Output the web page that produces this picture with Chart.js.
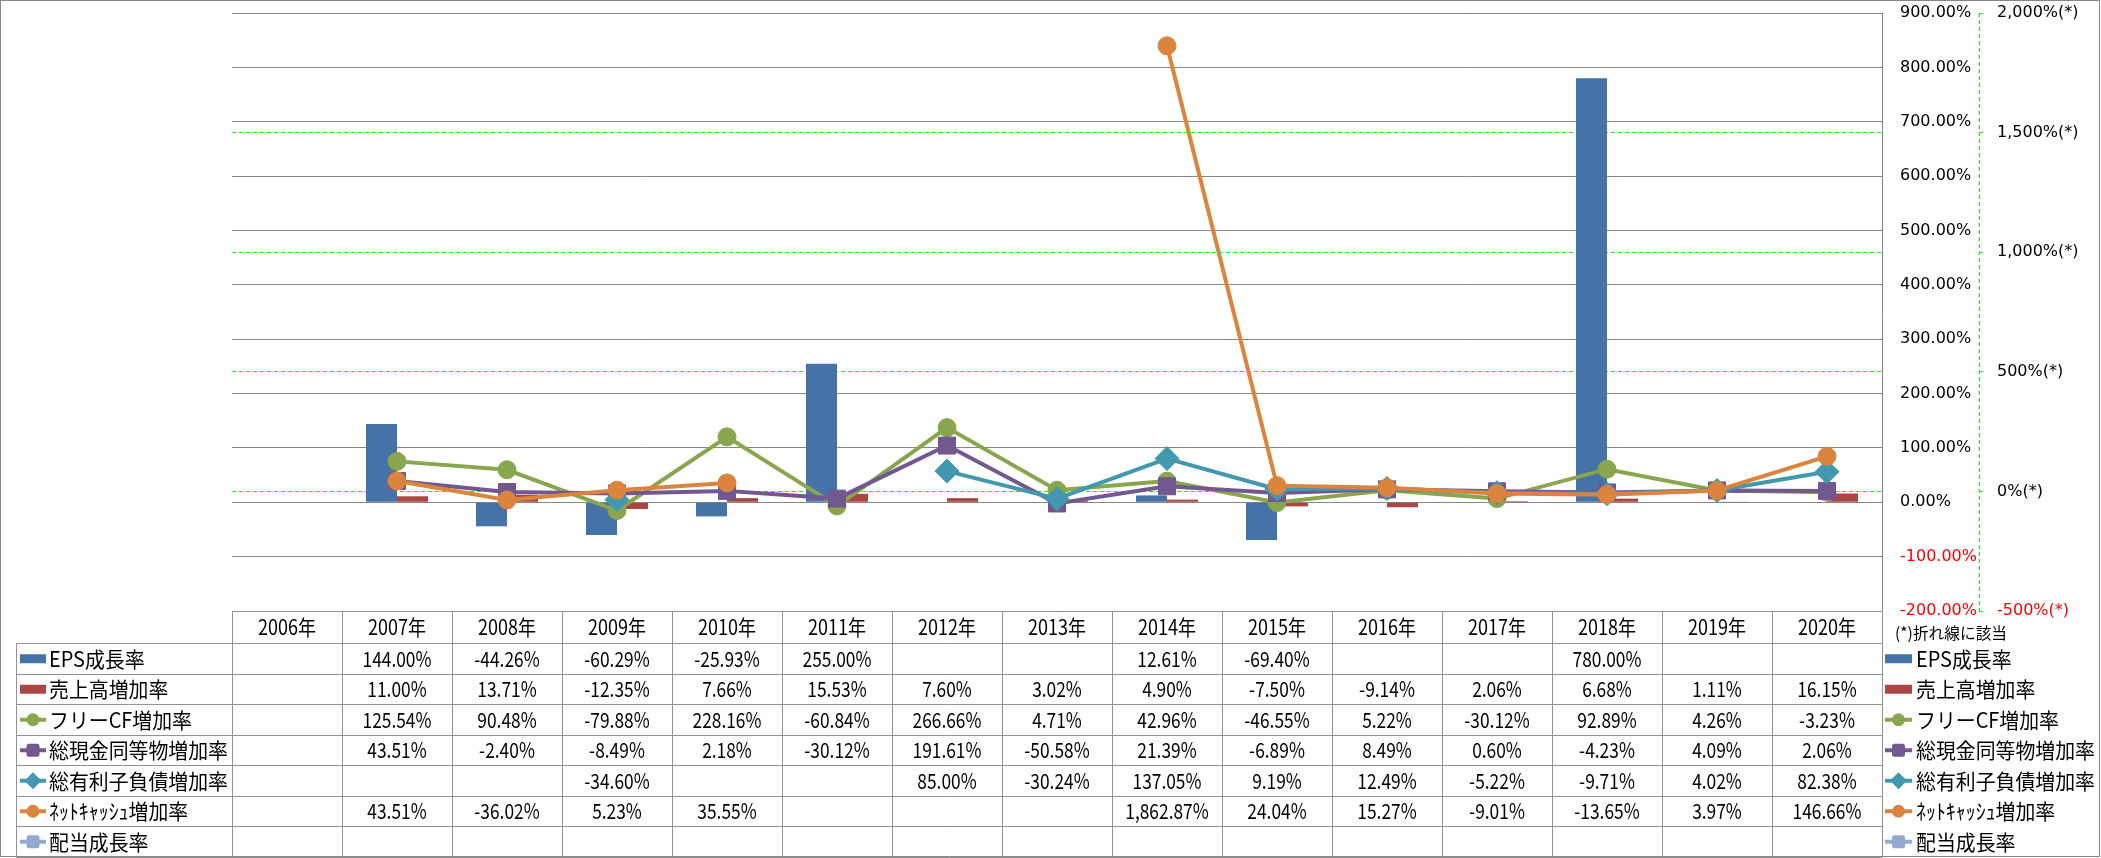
<!DOCTYPE html>
<html>
<head>
<meta charset="utf-8">
<script src="https://cdn.jsdelivr.net/npm/chart.js@4/dist/chart.umd.min.js"></script>
<style>
html,body{margin:0;padding:0;background:#fff;overflow:hidden}
canvas{display:block}
</style>
</head>
<body>
<canvas id="c" width="2101" height="858"></canvas>
<script>
// ---- data ----
const years = ['2006年','2007年','2008年','2009年','2010年','2011年','2012年','2013年','2014年','2015年','2016年','2017年','2018年','2019年','2020年'];
const seriesNames = ['EPS成長率','売上高増加率','フリーCF増加率','総現金同等物増加率','総有利子負債増加率','ﾈｯﾄｷｬｯｼｭ増加率','配当成長率'];
const epsGrowth     = [null,144.00,-44.26,-60.29,-25.93,255.00,null,null,12.61,-69.40,null,null,780.00,null,null];
const salesGrowth   = [null,11.00,13.71,-12.35,7.66,15.53,7.60,3.02,4.90,-7.50,-9.14,2.06,6.68,1.11,16.15];
const freeCfGrowth  = [null,125.54,90.48,-79.88,228.16,-60.84,266.66,4.71,42.96,-46.55,5.22,-30.12,92.89,4.26,-3.23];
const cashGrowth    = [null,43.51,-2.40,-8.49,2.18,-30.12,191.61,-50.58,21.39,-6.89,8.49,0.60,-4.23,4.09,2.06];
const debtGrowth    = [null,null,null,-34.60,null,null,85.00,-30.24,137.05,9.19,12.49,-5.22,-9.71,4.02,82.38];
const netCashGrowth = [null,43.51,-36.02,5.23,35.55,null,null,null,1862.87,24.04,15.27,-9.01,-13.65,3.97,146.66];
const dividendGrowth= [null,null,null,null,null,null,null,null,null,null,null,null,null,null,null];
const leftAxisRange  = [-200, 900, 100];   // min, max, step (bars)
const rightAxisRange = [-500, 2000, 500];  // min, max, step (lines, marked (*))
const axisNote = '(*)折れ線に該当';

// ---- styles ----
const COLORS = ['#4572A7','#AA4643','#89A54E','#71588F','#4198AF','#DB843D','#93A9CF'];
const KEYS = ['bar','bar','circle','rect','diamond','circle','rect'];
const seriesData = [epsGrowth, salesGrowth, freeCfGrowth, cashGrowth, debtGrowth, netCashGrowth, dividendGrowth];

const fmtPct = v => v.toLocaleString('en-US',{minimumFractionDigits:2,maximumFractionDigits:2}) + '%';

function drawKey(ctx, type, color, x0, x1, yc) {
  ctx.save();
  ctx.fillStyle = color; ctx.strokeStyle = color;
  const xm = (x0 + x1) / 2;
  if (type === 'bar') {
    ctx.fillRect(x0, yc - 4.5, x1 - x0, 9);
  } else {
    ctx.lineWidth = 4;
    ctx.beginPath(); ctx.moveTo(x0, yc); ctx.lineTo(x1, yc); ctx.stroke();
    ctx.beginPath();
    if (type === 'circle') {
      ctx.arc(xm, yc, 6.5, 0, Math.PI * 2);
    } else if (type === 'rect') {
      const s = 6.5, r = 2.5;
      ctx.moveTo(xm - s + r, yc - s);
      ctx.arcTo(xm + s, yc - s, xm + s, yc + s, r);
      ctx.arcTo(xm + s, yc + s, xm - s, yc + s, r);
      ctx.arcTo(xm - s, yc + s, xm - s, yc - s, r);
      ctx.arcTo(xm - s, yc - s, xm + s, yc - s, r);
      ctx.closePath();
    } else if (type === 'diamond') {
      const d = 8.5;
      ctx.moveTo(xm, yc - d); ctx.lineTo(xm + d, yc); ctx.lineTo(xm, yc + d); ctx.lineTo(xm - d, yc); ctx.closePath();
    }
    ctx.fill();
  }
  ctx.restore();
}

function drawText(ctx, t, x, y, align, sx) {
  ctx.save();
  ctx.translate(x, y);
  ctx.scale(sx, 1);
  ctx.textAlign = align;
  ctx.textBaseline = 'middle';
  ctx.fillText(t, 0, 0);
  ctx.restore();
}

const tablePlugin = {
  id: 'dataTable',
  afterDraw(chart) {
    const ctx = chart.ctx;
    const ca = chart.chartArea;
    const xs = chart.scales.x;
    const n = years.length;
    const colW = (ca.right - ca.left) / n;
    const top = Math.round(ca.bottom) + 0.5;
    const headH = 32, rowH = 30.5;
    const labelLeft = 16.5;
    const L = Math.round(ca.left) + 0.5, R = Math.round(ca.right) + 0.5;
    const nRows = seriesNames.length;
    const bottom = Math.round(top + headH + nRows * rowH) + 0.5 - 1;

    ctx.save();
    // secondary axis dashed border
    const y2 = chart.scales.y2;
    ctx.strokeStyle = '#00FF00'; ctx.lineWidth = 1; ctx.setLineDash([4,3]);
    ctx.beginPath(); ctx.moveTo(Math.round(y2.left) + 0.5, ca.top); ctx.lineTo(Math.round(y2.left) + 0.5, ca.bottom); ctx.stroke();
    ctx.setLineDash([]);

    // table grid
    ctx.strokeStyle = '#939393'; ctx.lineWidth = 1;
    const line = (a, b, c, d) => { ctx.beginPath(); ctx.moveTo(a, b); ctx.lineTo(c, d); ctx.stroke(); };
    line(L, top, R, top);
    for (let r = 0; r <= nRows; r++) {
      const y = Math.round(top + headH + r * rowH - 0.5) + 0.5;
      line(labelLeft, y, R, y);
    }
    line(labelLeft, Math.round(top + headH - 0.5) + 0.5, labelLeft, bottom);
    for (let i = 0; i <= n; i++) {
      const x = Math.round(ca.left + i * colW) + 0.5;
      line(x, top, x, bottom);
    }

    // header
    ctx.fillStyle = '#000';
    ctx.font = '21px "Noto Sans CJK JP"';
    const sxHead = 58 / ctx.measureText('2006年').width;
    const sxNum = 69 / ctx.measureText('255.00%').width;
    const sxLab = 179 / ctx.measureText('総現金同等物増加率').width;
    for (let i = 0; i < n; i++) {
      drawText(ctx, years[i], xs.getPixelForValue(i), top + headH / 2, 'center', sxHead);
    }
    // rows
    for (let r = 0; r < nRows; r++) {
      const yc = top + headH + (r + 0.5) * rowH;
      drawKey(ctx, KEYS[r], COLORS[r], 20, 46, yc);
      ctx.fillStyle = '#000';
      drawText(ctx, seriesNames[r], 49, yc, 'left', sxLab);
      const d = seriesData[r];
      for (let i = 0; i < n; i++) {
        if (d[i] === null || d[i] === undefined) continue;
        drawText(ctx, fmtPct(d[i]), xs.getPixelForValue(i), yc, 'center', sxNum);
      }
      // right legend
      drawKey(ctx, KEYS[r], COLORS[r], 1885, 1912, yc);
      ctx.fillStyle = '#000';
      drawText(ctx, seriesNames[r], 1916, yc, 'left', sxLab);
    }
    // note
    ctx.font = '16px "Noto Sans CJK JP"';
    const sxNote = 112 / ctx.measureText(axisNote).width;
    drawText(ctx, axisNote, 1895, 633, 'left', sxNote);

    // outer frame
    ctx.strokeStyle = '#868686';
    ctx.strokeRect(0.5, 0.5, 2099, 856);
    ctx.restore();
  }
};

const lineDs = (label, data, color, style, radius) => ({
  type: 'line', label, data, yAxisID: 'y2',
  borderColor: color, backgroundColor: color, borderWidth: 4,
  pointStyle: style, pointRadius: radius, pointBorderWidth: 1,
  pointBackgroundColor: color, pointBorderColor: color,
  fill: false, tension: 0, spanGaps: false
});

const datasets = [
  { type:'bar', label: seriesNames[0], data: epsGrowth, backgroundColor: COLORS[0], yAxisID:'y', order: 6, barPercentage: 1, categoryPercentage: 0.564 },
  { type:'bar', label: seriesNames[1], data: salesGrowth, backgroundColor: COLORS[1], yAxisID:'y', order: 7, barPercentage: 1, categoryPercentage: 0.564 },
  Object.assign(lineDs(seriesNames[2], freeCfGrowth, COLORS[2], 'circle', 9), {order: 4}),
  Object.assign(lineDs(seriesNames[3], cashGrowth, COLORS[3], 'rect', 12), {order: 3}),
  Object.assign(lineDs(seriesNames[4], debtGrowth, COLORS[4], 'rectRot', 12), {order: 2}),
  Object.assign(lineDs(seriesNames[5], netCashGrowth, COLORS[5], 'circle', 9), {order: 1}),
  Object.assign(lineDs(seriesNames[6], dividendGrowth, COLORS[6], 'rect', 12), {order: 5})
];

const negRed = c => (c.tick && c.tick.value < 0) ? '#FF0000' : '#000000';
const fixAxis = w => s => { s.width = w; s.paddingTop = 0; s.paddingBottom = 0; };

new Chart(document.getElementById('c'), {
  type: 'bar',
  data: { labels: years, datasets },
  options: {
    responsive: false, animation: false, devicePixelRatio: 1, events: [],
    layout: { padding: { left: 232, right: 12, top: 13, bottom: 247 } },
    plugins: { legend: { display: false }, tooltip: { enabled: false } },
    scales: {
      x: { display: false, offset: true, grid: { display: false } },
      y: {
        position: 'right', min: leftAxisRange[0], max: leftAxisRange[1],
        ticks: { stepSize: leftAxisRange[2], padding: 18, color: negRed,
                 font: { family: 'DejaVu Sans', size: 16 },
                 callback: v => v.toFixed(2) + '%' },
        grid: { color: '#868686', lineWidth: 1, drawTicks: false },
        border: { display: true, color: '#868686', width: 1 },
        afterFit: fixAxis(97)
      },
      y2: {
        position: 'right', min: rightAxisRange[0], max: rightAxisRange[1],
        ticks: { stepSize: rightAxisRange[2], padding: 14, color: negRed,
                 font: { family: 'DejaVu Sans', size: 16 },
                 callback: v => v.toLocaleString('en-US') + '%(*)' },
        grid: {
          color: c => (c.tick && (c.tick.value === rightAxisRange[0] || c.tick.value === rightAxisRange[1])) ? 'rgba(0,0,0,0)' : '#00FF00',
          tickColor: '#00FF00', tickLength: 4, lineWidth: 1, drawTicks: true
        },
        border: { display: false, dash: [4,3] },
        afterFit: fixAxis(110)
      }
    }
  },
  plugins: [tablePlugin]
});
</script>
</body>
</html>
